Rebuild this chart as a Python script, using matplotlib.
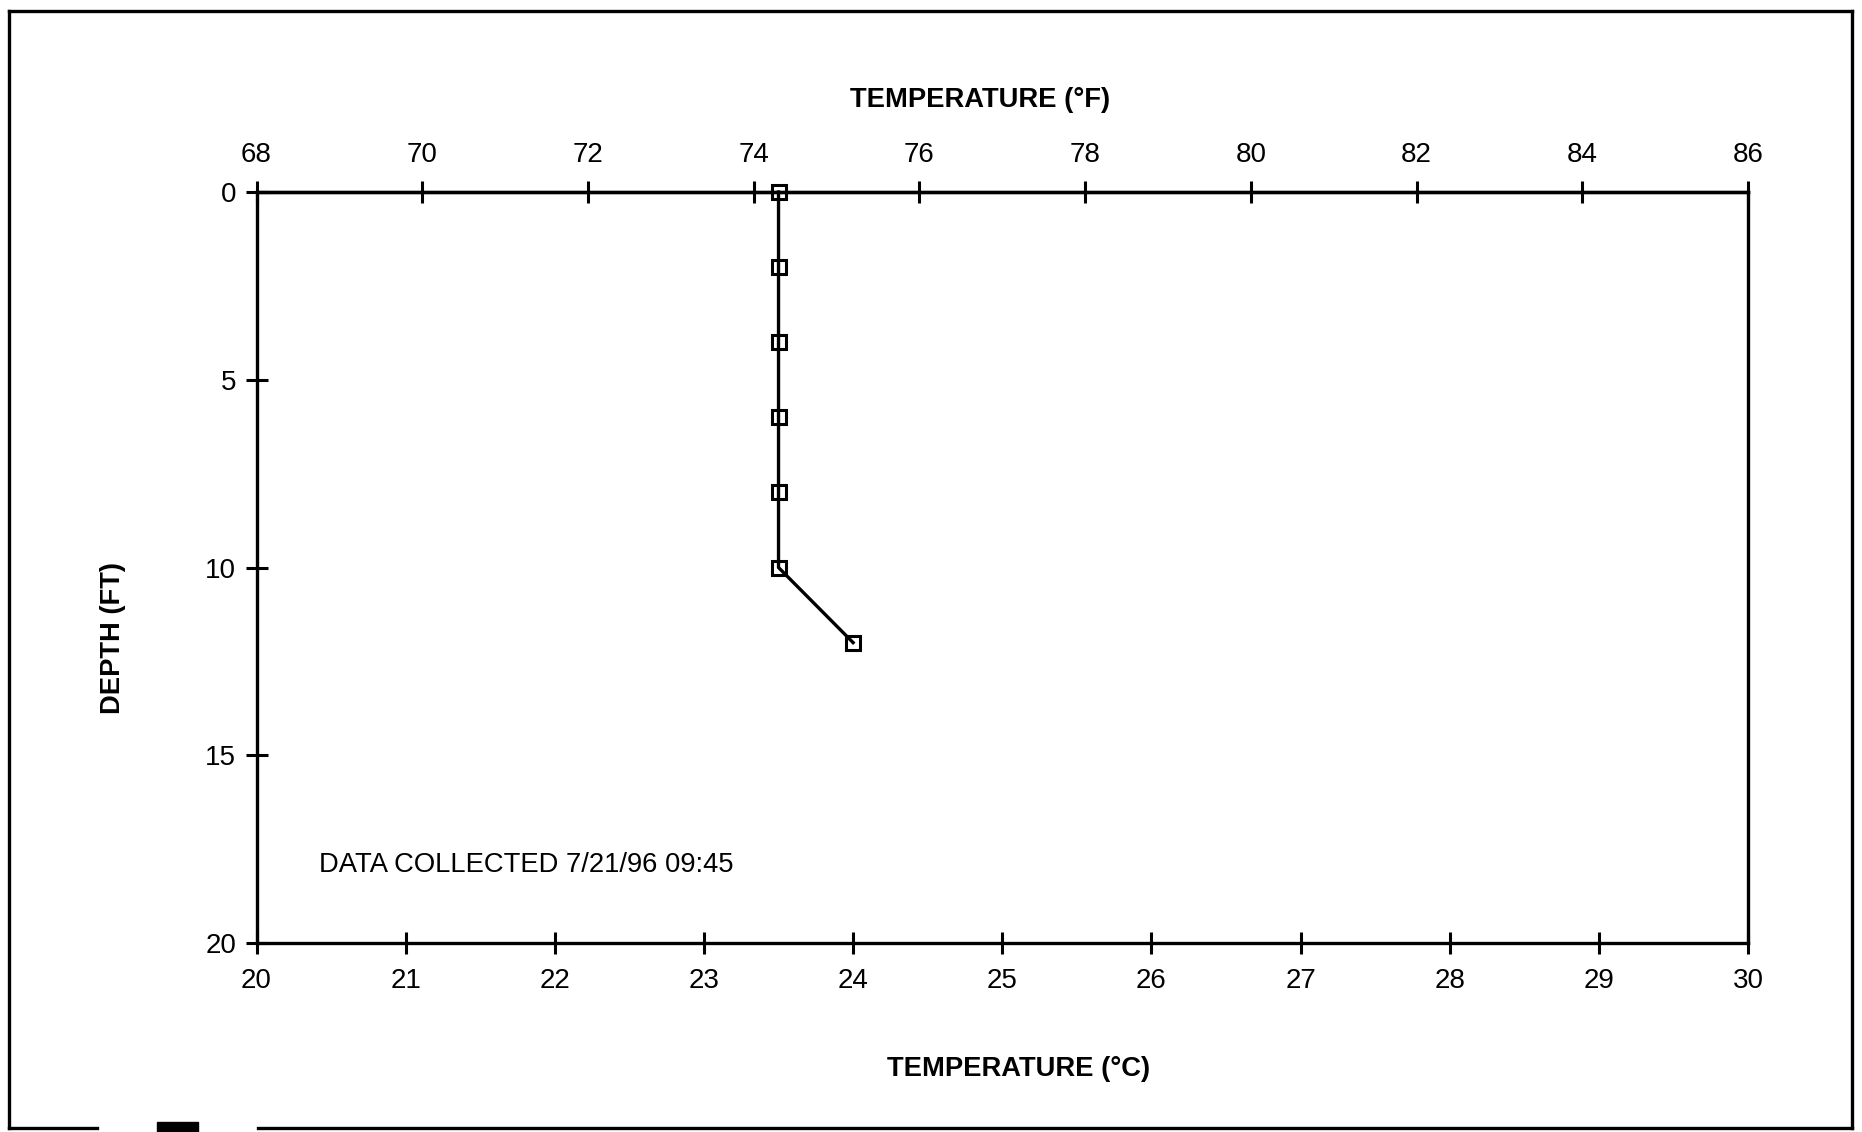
import matplotlib.pyplot as plt
from matplotlib.lines import Line2D
from matplotlib.patches import Rectangle

plt.rcParams['font.family'] = ['Liberation Sans', 'DejaVu Sans']

# profile data
depth_ft = [0, 2, 4, 6, 8, 10, 12]
temp_c = [23.5, 23.5, 23.5, 23.5, 23.5, 23.5, 24.0]

c_ticks = list(range(20, 31))
f_ticks = list(range(68, 87, 2))
depth_ticks = [0, 5, 10, 15, 20]

note = 'DATA COLLECTED 7/21/96 09:45'

W, H = 1862, 1132
fig = plt.figure(figsize=(W / 100, H / 100), dpi=100)
fig.patch.set_facecolor('white')


def fx(px):
    return px / W


def fy(py):
    return 1 - py / H


# axes box in pixels: left 256, right 1748, top 192, bottom 943
ax = fig.add_axes([fx(256.5), fy(943), fx(1748) - fx(256.5), fy(192) - fy(943)])

ax.plot(temp_c, depth_ft, color='black', linewidth=2.4, marker='s',
        markersize=10.5, markerfacecolor='none', markeredgecolor='black',
        markeredgewidth=2.2, clip_on=False, zorder=5)

ax.set_xlim(20, 30)
ax.set_ylim(20, 0)
ax.set_xticks(c_ticks)
ax.set_yticks(depth_ticks)

for s in ax.spines.values():
    s.set_linewidth(2.4)

ax.tick_params(axis='both', direction='inout', length=16, width=2.2,
               labelsize=20, colors='black')
ax.tick_params(axis='x', pad=10)
ax.tick_params(axis='y', pad=6.5)


def c2f(c):
    return c * 9 / 5 + 32


def f2c(f):
    return (f - 32) * 5 / 9


top = ax.secondary_xaxis('top', functions=(c2f, f2c))
top.set_xticks(f_ticks)
top.spines['top'].set_linewidth(2.4)
top.tick_params(direction='inout', length=16, width=2.2, labelsize=20,
                pad=9)

ax.text(20.42, 17.92, note, fontsize=19.7, ha='left', va='center')

fig.text(fx(980), fy(100), 'TEMPERATURE (°F)', fontsize=19.7,
         fontweight='bold', ha='center', va='center')
fig.text(fx(1019), fy(1069), 'TEMPERATURE (°C)', fontsize=19.7,
         fontweight='bold', ha='center', va='center')
fig.text(fx(113), fy(638), 'DEPTH (FT)', fontsize=19.7, fontweight='bold',
         rotation=90, ha='center', va='center')

# outer frame of the scanned page
frame = [
    ([9, 9], [11, 1128]),
    ([9, 1852], [11, 11]),
    ([1852, 1852], [11, 1128]),
    ([9, 97], [1128, 1128]),
    ([258, 1852], [1128, 1128]),
]
for xs, ys in frame:
    fig.add_artist(Line2D([fx(x) for x in xs], [fy(y) for y in ys],
                          color='black', linewidth=2.4))
fig.add_artist(Rectangle((fx(157), fy(1132)), fx(198) - fx(157),
                         fy(1122) - fy(1132), color='black'))

fig.savefig('out.png', dpi=100, facecolor='white')
